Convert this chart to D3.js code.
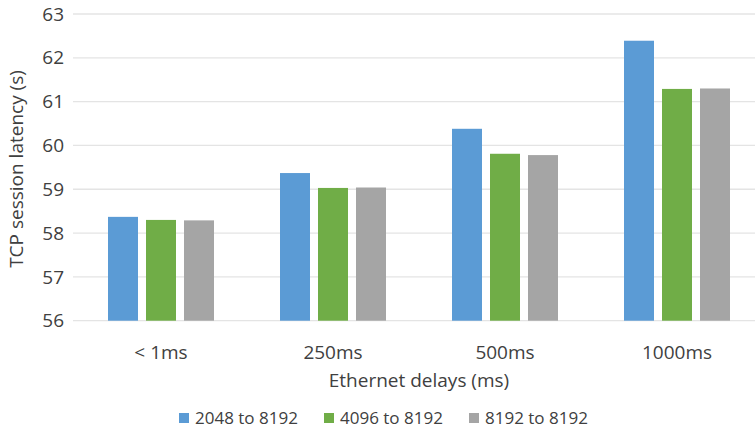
<!DOCTYPE html>
<html><head><meta charset="utf-8">
<script src="https://cdn.jsdelivr.net/npm/d3@7"></script>
<style>
body{margin:0;background:#fff;}
svg{display:block;font-family:"Open Sans",sans-serif;}
</style></head>
<body><svg id="chart" width="755" height="431"></svg>
<script>
const categories = ["< 1ms", "250ms", "500ms", "1000ms"];
const seriesNames = ["2048 to 8192", "4096 to 8192", "8192 to 8192"];
const s2048 = [58.37, 59.37, 60.38, 62.39];
const s4096 = [58.30, 59.03, 59.81, 61.29];
const s8192 = [58.29, 59.04, 59.78, 61.30];
const yTicks = [56, 57, 58, 59, 60, 61, 62, 63];
const colors = ["#5B9BD5", "#70AD47", "#A5A5A5"];

const seriesValues = [s2048, s4096, s8192];
const svg = d3.select("#chart");
const textColor = "#404040";

const x = d3.scaleBand().domain(categories).range([75, 763]).paddingInner(66/172).paddingOuter(33/172);
const xs = d3.scaleBand().domain(seriesNames).range([0, x.bandwidth()]).paddingInner(8/38).paddingOuter(0);
const y = d3.scaleLinear().domain([56, 63]).range([320.7, 14]);

// gridlines
svg.append("g").selectAll("line").data(yTicks).join("line")
  .attr("x1", 73).attr("x2", 755)
  .attr("y1", d => y(d)).attr("y2", d => y(d))
  .attr("stroke", "#e4e4e4").attr("stroke-width", 1.3);

// y tick labels
svg.append("g").selectAll("text").data(yTicks).join("text")
  .attr("x", 64).attr("y", d => y(d)).attr("dy", "0.35em")
  .attr("text-anchor", "end").attr("font-size", 19).attr("fill", textColor)
  .text(d => d);

// bars
const groups = svg.append("g").selectAll("g").data(categories).join("g")
  .attr("transform", c => `translate(${x(c)},0)`);
groups.selectAll("rect").data((c, i) => seriesNames.map((s, j) => ({s, j, v: seriesValues[j][i]})))
  .join("rect")
  .attr("x", d => xs(d.s)).attr("width", xs.bandwidth())
  .attr("y", d => y(d.v)).attr("height", d => y(56) - y(d.v))
  .attr("fill", d => colors[d.j]);

// x tick labels
svg.append("g").selectAll("text").data(categories).join("text")
  .attr("x", c => x(c) + x.bandwidth()/2).attr("y", 352).attr("dy", "0.35em")
  .attr("text-anchor", "middle").attr("font-size", 19).attr("fill", textColor)
  .text(c => c);

// axis titles
svg.append("text").attr("x", 419).attr("y", 380).attr("dy", "0.35em")
  .attr("text-anchor", "middle").attr("font-size", 19).attr("fill", textColor)
  .text("Ethernet delays (ms)");
svg.append("text").attr("transform", "translate(16,169) rotate(-90)").attr("dy", "0.35em")
  .attr("text-anchor", "middle").attr("font-size", 19).attr("fill", textColor)
  .text("TCP session latency (s)");

// legend
const legendX = d3.scalePoint().domain(seriesNames).range([179, 469]);
const lg = svg.append("g").selectAll("g").data(seriesNames).join("g")
  .attr("transform", s => `translate(${legendX(s)},418)`);
lg.append("rect").attr("x", 0).attr("y", -5).attr("width", 10).attr("height", 10)
  .attr("fill", (s, i) => colors[i]);
lg.append("text").attr("x", 16).attr("y", 0).attr("dy", "0.35em")
  .attr("font-size", 17).attr("fill", textColor).text(s => s);
</script></body></html>
